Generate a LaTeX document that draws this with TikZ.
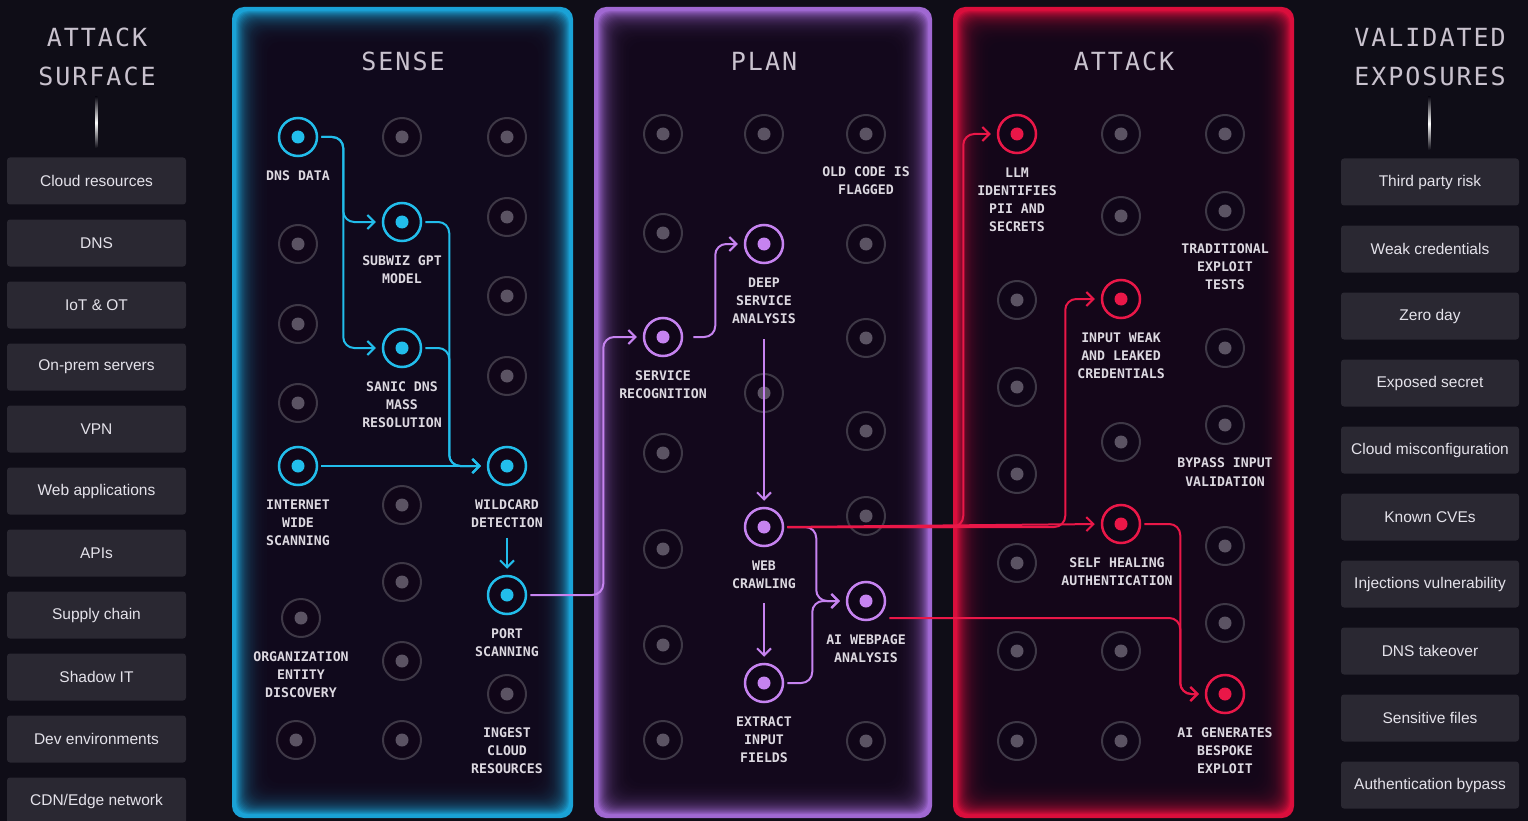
\documentclass[tikz,border=0pt]{standalone}
\usepackage{fontspec}
\setmainfont{Liberation Sans}
\newfontfamily\labelfont{DejaVu Sans Mono}
\newfontfamily\headfont[LetterSpace=8]{DejaVu Sans Mono}
\usetikzlibrary{arrows.meta,positioning,calc}

\definecolor{bgdark}{HTML}{0F0D17}
\definecolor{panelbg}{HTML}{100618}
\definecolor{boxgray}{HTML}{2A2832}
\definecolor{boxtext}{HTML}{E4E2EA}
\definecolor{headgray}{HTML}{C9C2CE}
\definecolor{lbltext}{HTML}{DCD8E0}
\definecolor{idlering}{HTML}{3E3846}
\definecolor{idledot}{HTML}{5B5363}
\definecolor{senseglow}{HTML}{1AA2D6}
\definecolor{planglow}{HTML}{A068D2}
\definecolor{attackglow}{HTML}{DA0E3C}
\definecolor{cyanline}{HTML}{22BDEB}
\definecolor{plumline}{HTML}{C683F0}
\definecolor{redline}{HTML}{EA1748}

% panel with glowing border: left x, right x, colour
\newcommand\glowpanel[3]{%
  \foreach \i in {0,...,36}{%
    \pgfmathtruncatemacro\mix{100*exp(-max(0,\i-3)/9)}%
    \fill[#3!\mix!panelbg, rounded corners=12pt] (#1+\i, 7+\i) rectangle (#2-\i, 818-\i);
  }%
}

\begin{document}
\begin{tikzpicture}[
  x=1pt, y=-1pt,
  item/.style={fill=boxgray, rounded corners=3pt, minimum width=179pt, minimum height=47pt,
               text=boxtext, font=\fontsize{15.5}{18}\selectfont},
  head/.style={text=headgray, font=\headfont\fontsize{25}{39}\selectfont, align=center, inner sep=0pt},
  act/.style={circle, minimum size=38pt, inner sep=0pt, line width=2.5pt, draw=#1, fill=panelbg,
              path picture={\fill[#1] (path picture bounding box.center) circle (6.5pt);}},
  idle/.style={circle, minimum size=38pt, inner sep=0pt, line width=2pt, draw=idlering, fill=panelbg,
               path picture={\fill[idledot] (path picture bounding box.center) circle (6.5pt);}},
  lbl/.style={text=lbltext, font=\labelfont\bfseries\fontsize{13.2}{18}\selectfont, align=center, inner sep=0pt},
  link/.style={draw=#1, line width=2pt, rounded corners=11pt,
               -{Straight Barb[length=7pt,width=14pt]}, shorten >=6pt, shorten <=3pt}
]
\useasboundingbox (0,0) rectangle (1528,821);
\fill[bgdark] (0,0) rectangle (1528,821);

% side columns
\node[head] (surfhead) at (97,57.4) {ATTACK\\SURFACE};
\shade[top color=bgdark, bottom color=bgdark, middle color=white!85] (95,97) rectangle (97.4,148);
\foreach \t [count=\k] in {Cloud resources, DNS, IoT \& OT, On-prem servers, VPN, Web applications,
    APIs, Supply chain, Shadow IT, Dev environments, CDN/Edge network}
  \node[item] (surf\k) at (96.5,{119+\k*62}) {\t};

\node[head] (exphead) at (1430,57.4) {VALIDATED\\EXPOSURES};
\shade[top color=bgdark, bottom color=bgdark, middle color=white!85] (1428,97) rectangle (1430.4,150);
\foreach \t [count=\k] in {Third party risk, Weak credentials, Zero day, Exposed secret,
    Cloud misconfiguration, Known CVEs, Injections vulnerability, DNS takeover,
    Sensitive files, Authentication bypass}
  \node[item, minimum width=178pt] (exp\k) at (1430,{115+\k*67}) {\t};

% panels
\glowpanel{232}{573}{senseglow}
\glowpanel{594}{932}{planglow}
\glowpanel{953}{1294}{attackglow}
\node[head] (sensehead) at (403,61) {SENSE};
\node[head] (planhead) at (764,61) {PLAN};
\node[head] (attackhead) at (1124,61) {ATTACK};

% sense
\foreach \p [count=\k] in {(402,137),(507,137),(298,244),(507,217),(298,324),(507,296),(298,403),
    (507,376),(402,505),(402,582),(402,661),(296,740),(402,740)}
  \node[idle] (sidle\k) at \p {};
\node[idle] (orgent) at (301,618) {};
\node[idle] (ingest) at (507,694) {};
\node[act=cyanline] (dnsdata) at (298,137) {};
\node[act=cyanline] (subwiz) at (402,222) {};
\node[act=cyanline] (sanic) at (402,348) {};
\node[act=cyanline] (inetscan) at (298,466) {};
\node[act=cyanline] (wildcard) at (507,466) {};
\node[act=cyanline] (portscan) at (507,595) {};

\node[lbl, below=13pt of dnsdata] (dnsdatalbl) {DNS DATA};
\node[lbl, below=13pt of subwiz] (subwizlbl) {SUBWIZ GPT\\MODEL};
\node[lbl, below=13pt of sanic] (saniclbl) {SANIC DNS\\MASS\\RESOLUTION};
\node[lbl, below=13pt of inetscan] (inetscanlbl) {INTERNET\\WIDE\\SCANNING};
\node[lbl, below=13pt of wildcard] (wildcardlbl) {WILDCARD\\DETECTION};
\node[lbl, below=13pt of portscan] (portscanlbl) {PORT\\SCANNING};
\node[lbl, below=13pt of orgent] (orgentlbl) {ORGANIZATION\\ENTITY\\DISCOVERY};
\node[lbl, below=13pt of ingest] (ingestlbl) {INGEST\\CLOUD\\RESOURCES};

% plan
\foreach \p [count=\k] in {(663,134),(764,134),(663,233),(866,244),(866,338),(764,393),(866,431),
    (663,453),(866,516),(663,549),(663,645),(663,740),(866,741)}
  \node[idle] (pidle\k) at \p {};
\node[idle] (oldcode) at (866,134) {};
\node[act=plumline] (servrec) at (663,337) {};
\node[act=plumline] (deep) at (764,244) {};
\node[act=plumline] (web) at (764,527) {};
\node[act=plumline] (extract) at (764,683) {};
\node[act=plumline] (aiweb) at (866,601) {};

\node[lbl, below=13pt of oldcode] (oldcodelbl) {OLD CODE IS\\FLAGGED};
\node[lbl, below=13pt of servrec] (servreclbl) {SERVICE\\RECOGNITION};
\node[lbl, below=13pt of deep] (deeplbl) {DEEP\\SERVICE\\ANALYSIS};
\node[lbl, below=13pt of web] (weblbl) {WEB\\CRAWLING};
\node[lbl, below=13pt of extract] (extractlbl) {EXTRACT\\INPUT\\FIELDS};
\node[lbl, below=13pt of aiweb] (aiweblbl) {AI WEBPAGE\\ANALYSIS};

% attack
\foreach \p [count=\k] in {(1121,134),(1225,134),(1121,216),(1017,300),(1225,348),(1017,387),
    (1121,442),(1017,474),(1225,546),(1017,563),(1225,623),(1017,651),(1121,651),(1017,741),(1121,741)}
  \node[idle] (aidle\k) at \p {};
\node[idle] (tradexp) at (1225,211) {};
\node[idle] (bypass) at (1225,425) {};
\node[act=redline] (llm) at (1017,134) {};
\node[act=redline] (inputweak) at (1121,299) {};
\node[act=redline] (selfheal) at (1121,524) {};
\node[act=redline] (aigen) at (1225,694) {};

\node[lbl, below=13pt of llm] (llmlbl) {LLM\\IDENTIFIES\\PII AND\\SECRETS};
\node[lbl, below=13pt of tradexp] (tradexplbl) {TRADITIONAL\\EXPLOIT\\TESTS};
\node[lbl, below=13pt of inputweak] (inputweaklbl) {INPUT WEAK\\AND LEAKED\\CREDENTIALS};
\node[lbl, below=13pt of bypass] (bypasslbl) {BYPASS INPUT\\VALIDATION};
\node[lbl, below=13pt of selfheal, xshift=-4pt] (selfheallbl) {SELF HEALING\\AUTHENTICATION};
\node[lbl, below=13pt of aigen] (aigenlbl) {AI GENERATES\\BESPOKE\\EXPLOIT};

% connectors
\draw[link=cyanline] (dnsdata.east) -- ++(25,0) |- (subwiz.west);
\draw[link=cyanline] (dnsdata.east) -- ++(25,0) |- (sanic.west);
\draw[link=cyanline] (subwiz.east) -- ++(27,0) |- (wildcard.west);
\draw[link=cyanline] (sanic.east) -- ++(27,0) |- (wildcard.west);
\draw[link=cyanline] (inetscan.east) -- (wildcard.west);
\draw[link=cyanline, shorten <=0pt] ([yshift=-10pt]wildcardlbl.south) -- (portscan.north);
\draw[link=plumline] (portscan.east) -- ++(76,0) |- (servrec.west);

\draw[link=plumline, shorten <=10pt] (servrec.east) -- ++(32,0) |- (deep.west);
\draw[link=plumline, shorten <=0pt] ([yshift=-16pt]deeplbl.south) -- (web.north);
\draw[link=plumline, shorten <=0pt] ([yshift=-15pt]weblbl.south) -- (extract.north);
\draw[link=plumline] (web.east) -- ++(32,0) |- (aiweb.west);
\draw[link=plumline] (extract.east) -- ++(28,0) |- (aiweb.west);

\draw[link=redline] (web.east) -- ++(179,0) |- (llm.west);
\draw[link=redline] (web.east) -- ++(281,0) |- (inputweak.west);
\draw[link=redline] (web.east) -- (selfheal.west);
\draw[link=redline] ([yshift=-17pt]aiweb.east) -- ++(294,0) |- (aigen.west);
\draw[link=redline] (selfheal.east) -- ++(39,0) |- (aigen.west);
\end{tikzpicture}
\end{document}
